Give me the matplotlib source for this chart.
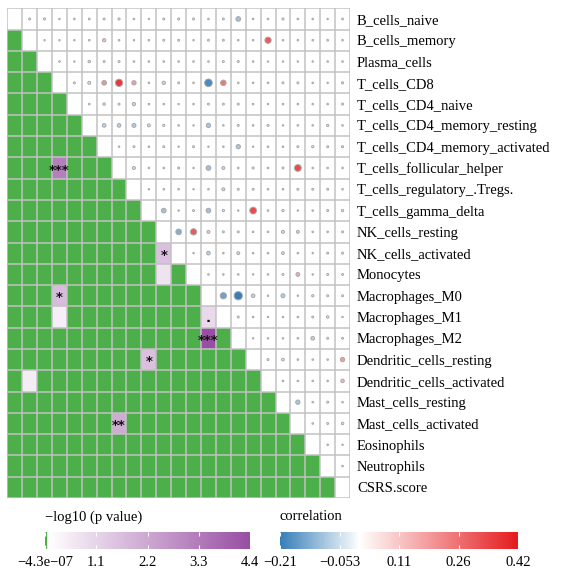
import numpy as np
import matplotlib
matplotlib.use("Agg")
import matplotlib.pyplot as plt
from matplotlib.colors import LinearSegmentedColormap, Normalize
from matplotlib.cm import ScalarMappable

plt.rcParams['font.family'] = ['Liberation Serif', 'DejaVu Serif']

labels = ["B_cells_naive", "B_cells_memory", "Plasma_cells", "T_cells_CD8",
          "T_cells_CD4_naive", "T_cells_CD4_memory_resting",
          "T_cells_CD4_memory_activated", "T_cells_follicular_helper",
          "T_cells_regulatory_.Tregs.", "T_cells_gamma_delta", "NK_cells_resting",
          "NK_cells_activated", "Monocytes", "Macrophages_M0", "Macrophages_M1",
          "Macrophages_M2", "Dendritic_cells_resting", "Dendritic_cells_activated",
          "Mast_cells_resting", "Mast_cells_activated", "Eosinophils",
          "Neutrophils", "CSRS.score"]

# correlation, upper triangle, row i holds columns i+1 .. 22
corr_upper = [
    [0.04, 0.05, 0.01, 0.02, 0.03, 0.04, 0.05, 0.02, 0.0, 0.04, 0.05, 0.04, 0.02, 0.04, -0.10, 0.02, 0.02, 0.05, 0.02, 0.02, 0.01, 0.03],
    [0.01, 0.01, 0.01, 0.02, 0.12, 0.02, 0.01, 0.02, 0.04, 0.04, 0.01, 0.04, 0.04, 0.02, 0.02, 0.30, 0.02, 0.02, 0.02, 0.03, 0.02],
    [0.02, 0.01, 0.07, 0.04, 0.04, 0.02, 0.02, 0.02, 0.02, 0.02, 0.02, 0.04, 0.04, 0.02, 0.01, 0.01, 0.01, 0.01, 0.02, 0.02],
    [0.04, -0.05, 0.20, 0.36, 0.18, 0.02, -0.06, 0.04, 0.02, -0.19, 0.25, 0.02, 0.02, 0.02, 0.04, 0.04, 0.02, 0.01, 0.05],
    [0.02, 0.07, 0.04, -0.06, 0.02, 0.02, 0.01, 0.02, 0.04, 0.04, 0.04, 0.02, 0.01, 0.02, 0.02, 0.02, 0.02, 0.04],
    [-0.07, -0.07, -0.08, -0.05, 0.05, 0.02, 0.01, -0.09, 0.02, 0.04, 0.02, 0.04, 0.01, 0.02, 0.02, 0.06, 0.02],
    [0.01, 0.04, 0.02, 0.04, 0.01, 0.04, 0.01, 0.02, -0.09, 0.01, 0.02, 0.02, 0.04, 0.06, 0.04, 0.05],
    [0.10, 0.02, 0.02, 0.04, 0.01, -0.10, 0.10, 0.02, 0.05, 0.02, 0.04, 0.33, 0.02, 0.02, 0.02],
    [0.01, 0.02, 0.02, 0.01, 0.02, 0.10, 0.04, 0.04, 0.02, 0.02, 0.04, 0.04, 0.04, 0.02],
    [-0.10, 0.01, 0.04, -0.10, 0.06, 0.01, 0.33, 0.02, 0.06, 0.01, 0.02, 0.04, 0.06],
    [-0.13, 0.30, 0.10, 0.04, 0.04, 0.02, 0.02, -0.05, 0.10, 0.02, 0.02, 0.04],
    [0.01, -0.07, 0.02, -0.05, 0.02, 0.02, 0.09, 0.02, 0.01, 0.04, 0.04],
    [0.02, 0.02, 0.02, 0.01, 0.02, 0.04, 0.15, 0.01, 0.04, 0.04],
    [-0.15, -0.21, -0.07, 0.01, -0.08, 0.01, 0.06, 0.04, 0.04],
    [0.04, 0.02, 0.01, 0.01, 0.02, 0.04, 0.07, 0.01],
    [0.01, 0.01, 0.01, 0.02, -0.07, 0.04, 0.04],
    [0.04, 0.08, 0.02, 0.02, 0.02, 0.18],
    [0.02, 0.02, 0.02, 0.02, 0.13],
    [-0.09, 0.02, 0.04, 0.02],
    [0.02, 0.04, 0.07],
    [0.02, 0.01],
    [0.02],
]

# -log10(p) in lower triangle; all other lower cells are at the minimum
p_min = -4.3e-07
p_max = 4.4
p_rows = [7, 11, 12, 13, 14, 14, 15, 16, 17, 19]
p_cols = [3, 10, 10, 3, 3, 13, 13, 9, 1, 7]
p_vals = [3.2, 1.6, 0.75, 1.7, 0.45, 1.0, 4.4, 1.6, 0.5, 2.1]
p_marks = ['***', '*', '', '*', '', '.', '***', '*', '', '**']

r_min, r_max = -0.21, 0.42

n = len(labels)
green = '#4DAF4A'
purple = '#984EA3'
blue = '#377EB8'
red = '#E41A1C'

p_cmap = LinearSegmentedColormap.from_list('p', [(0, green), (0.006, green), (0.013, 'white'), (1, purple)])
p_norm = Normalize(p_min, p_max)
zero = (0 - r_min) / (r_max - r_min)
r_cmap = LinearSegmentedColormap.from_list('r', [(0, blue), (zero, 'white'), (1, red)])
r_norm = Normalize(r_min, r_max)

fig = plt.figure(figsize=(5.68, 5.76), dpi=100)
W, H = 568, 576
ax = fig.add_axes([7.3 / W, 1 - 498 / H, (350 - 7.3) / W, (498 - 8.3) / H])

# lower triangle matrix
pm = np.full((n, n), np.nan)
for i in range(n):
    for j in range(i):
        pm[i, j] = p_min
for r, c, v in zip(p_rows, p_cols, p_vals):
    pm[r, c] = v
ax.pcolormesh(np.arange(n + 1), np.arange(n + 1), np.ma.masked_invalid(pm),
              cmap=p_cmap, norm=p_norm, shading='flat')

for r, c, m in zip(p_rows, p_cols, p_marks):
    if m:
        dy = 0.1 if m != '.' else 0.05
        ax.text(c + 0.5, r + 0.5 + dy, m, ha='center', va='center',
                fontsize=9.5, fontweight='bold', color='#111111',
                family='DejaVu Sans', zorder=4)

# upper triangle circles
xs, ys, vals = [], [], []
for i, row in enumerate(corr_upper):
    for k, v in enumerate(row):
        xs.append(i + 1 + k + 0.5)
        ys.append(i + 0.5)
        vals.append(v)
vals = np.array(vals)
rel = np.where(vals >= 0, vals / r_max, vals / r_min)
diam_pt = (1.3 + 7.0 * rel) * 0.72
ax.scatter(xs, ys, s=diam_pt ** 2, c=vals, cmap=r_cmap, norm=r_norm,
           edgecolors='#a8a8a8', linewidths=0.7, zorder=3)

# grid
for k in range(n + 1):
    ax.axvline(k, color='#c2c2c2', lw=1.1, zorder=2)
    ax.axhline(k, color='#c2c2c2', lw=1.1, zorder=2)

ax.set_xlim(0, n)
ax.set_ylim(n, 0)
ax.set_xticks([])
ax.yaxis.tick_right()
ax.set_yticks(np.arange(n) + 0.5)
ax.set_yticklabels(labels, fontsize=10.5)
ax.tick_params(axis='y', length=0, pad=5)
for s in ax.spines.values():
    s.set_visible(False)

# colourbars
def add_bar(x0, x1, cmap, norm, ticks, ticklabels, title):
    cax = fig.add_axes([x0 / W, 1 - 549 / H, (x1 - x0) / W, 17 / H])
    cb = fig.colorbar(ScalarMappable(norm=norm, cmap=cmap), cax=cax, orientation='horizontal')
    cb.outline.set_visible(False)
    cb.set_ticks(ticks)
    cb.set_ticklabels(ticklabels)
    cax.tick_params(axis='x', direction='in', top=True, bottom=True, length=3,
                    width=0.8, color='white', labelsize=10.5, pad=5)
    fig.text(x0 / W, 1 - 517 / H, title, ha='left', va='center', fontsize=10.5)

add_bar(45, 250, p_cmap, p_norm, [p_min, 1.1, 2.2, 3.3, 4.4],
        ['\u22124.3e\u221207', '1.1', '2.2', '3.3', '4.4'], '\u2212log10 (p value)')
add_bar(280, 518, r_cmap, r_norm, [-0.21, -0.0525, 0.105, 0.2625, 0.42],
        ['\u22120.21', '\u22120.053', '0.11', '0.26', '0.42'], 'correlation')

fig.savefig('out.png', dpi=100)
